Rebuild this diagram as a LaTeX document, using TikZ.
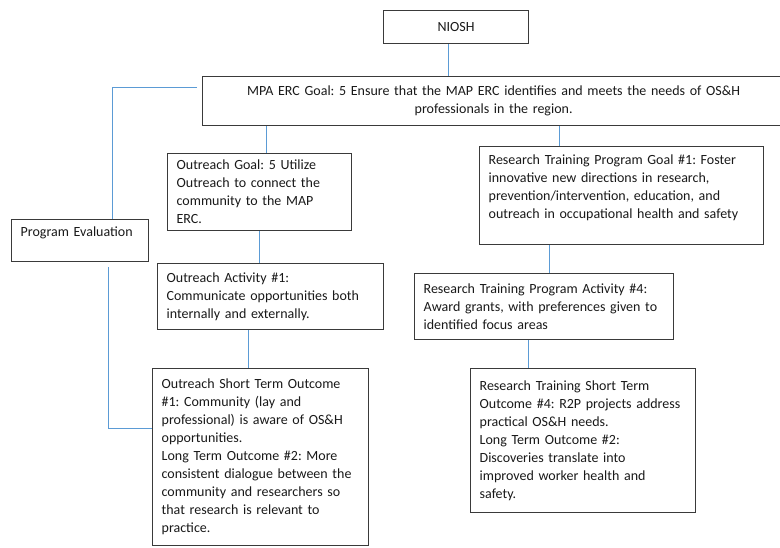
\documentclass[tikz,border=0pt]{standalone}
\usepackage{fontspec}
\setmainfont{Carlito}
\frenchspacing
\hyphenpenalty=10000
\definecolor{lineblue}{HTML}{5B9BD5}
\definecolor{boxgray}{HTML}{3A3A3A}
\tikzset{
    ercbox/.style={draw=boxgray, line width=1.3pt, anchor=north west, inner xsep=9pt, inner ysep=2pt,
                   align=left, font=\fontsize{14}{18}\selectfont, text=black!90},
    link/.style={draw=lineblue, line width=1.2pt}
}

\begin{document}
\begin{tikzpicture}[x=1pt,y=-1pt]
    \useasboundingbox (0,0) rectangle (780,547);
    \node[ercbox, minimum width=145pt, minimum height=33pt, inner xsep=0pt, align=center] (niosh) at (383,10) {NIOSH};
    \node[ercbox, text width=564pt, minimum height=49pt, align=center] (mpa) at (202,76)
        {MPA ERC Goal: 5 Ensure that the MAP ERC identifies and meets the needs of OS\&H\\ professionals in the region.};
    \node[ercbox, text width=166pt, minimum height=77pt] (ogoal) at (167,153)
        {Outreach Goal: 5 Utilize\\ Outreach to connect the\\ community to the MAP\\ ERC.};
    \node[ercbox, text width=119pt, minimum height=42pt] (peval) at (11,219) {Program Evaluation\\ \mbox{}};
    \node[ercbox, text width=208pt, minimum height=66pt] (oact) at (157,263)
        {Outreach Activity \#1:\\ Communicate opportunities both\\ internally and externally.};
    \node[ercbox, text width=198pt, minimum height=177pt] (oout) at (152,368)
        {Outreach Short Term Outcome\\ \#1: Community (lay and\\ professional) is aware of OS\&H\\ opportunities.\\
         Long Term Outcome \#2: More\\ consistent dialogue between the\\ community and researchers so\\ that research is relevant to\\ practice.};
    \node[ercbox, text width=266pt, minimum height=98pt] (rgoal) at (479,146)
        {Research Training Program Goal \#1: Foster\\ innovative new directions in research,\\ prevention/intervention, education, and\\ outreach in occupational health and safety\\ \mbox{}};
    \node[ercbox, text width=241pt, minimum height=66pt] (ract) at (414,273)
        {Research Training Program Activity \#4:\\ Award grants, with preferences given to\\ identified focus areas};
    \node[ercbox, text width=207pt, minimum height=144pt] (rout) at (470,368)
        {Research Training Short Term\\ Outcome \#4: R2P projects address\\ practical OS\&H needs.\\
         Long Term Outcome \#2:\\ Discoveries translate into\\ improved worker health and\\ safety.};
\begin{scope}[every edge/.style={link}]
    \path ([xshift=-7.5pt]niosh.south) edge ([xshift=-7.5pt]niosh.south |- mpa.north);
    \path ([xshift=6.5pt]ogoal.north) edge ([xshift=6.5pt]ogoal.north |- mpa.south);
    \path ([xshift=-62pt]rgoal.north) edge ([xshift=-62pt]rgoal.north |- mpa.south);
    \path (ogoal.south) edge (ogoal.south |- oact.north);
    \path ([xshift=-22pt]oact.south) edge ([xshift=-22pt]oact.south |- oout.north);
    \path ([xshift=5.5pt]ract.north) edge ([xshift=5.5pt]ract.north |- rgoal.south);
    \path ([xshift=-15.5pt]ract.south) edge ([xshift=-15.5pt]ract.south |- rout.north);
\end{scope}
    \draw[link] ([xshift=-5pt,yshift=13.5pt]mpa.west) -| ([xshift=32.5pt]peval.north);
    \draw[link] ([xshift=28.5pt,yshift=-5pt]peval.south) |- ([yshift=28.5pt]oout.west);
\end{tikzpicture}
\end{document}
